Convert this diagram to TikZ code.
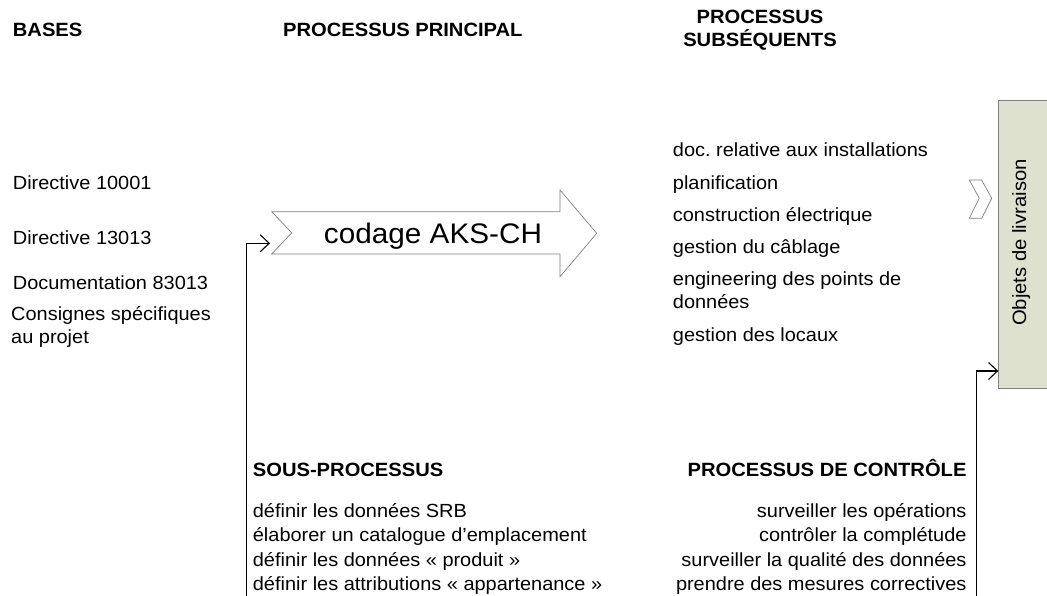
\documentclass[tikz,border=0pt]{standalone}
\usepackage{fontspec}
\setmainfont{Liberation Sans}[FakeStretch=1.05]
\usetikzlibrary{arrows.meta}
\definecolor{boxfill}{RGB}{221,225,205}
\definecolor{edgegray}{RGB}{128,128,128}
\frenchspacing
\begin{document}
\begin{tikzpicture}[x=1pt,y=-1pt,
  txt/.style={inner sep=0pt,anchor=base west,font=\fontsize{19}{22}\selectfont},
  txtr/.style={inner sep=0pt,anchor=base east,font=\fontsize{19}{22}\selectfont},
  headfont/.style={inner sep=0pt,font=\fontsize{19.2}{23.4}\selectfont\bfseries},
  head/.style={headfont,anchor=base west},
  conn/.style={line width=1.4pt,-{Straight Barb[length=9pt,width=17pt,line width=1.1pt]}},
  outline/.style={draw=edgegray,line width=0.7pt,fill=white}]
\useasboundingbox (0,0) rectangle (1047,596);

% column headings
\node[head] (hbases) at (12.7,36.7) {BASES};
\node[head] (hmain) at (283,36.7) {PROCESSUS PRINCIPAL};
\node[headfont,anchor=base] (hsub1) at (760,23.3) {PROCESSUS};
\node[headfont,anchor=base] (hsub2) at (760,46.7) {SUBSÉQUENTS};

% bases
\node[txt] (b1) at (12.7,189.3) {Directive 10001};
\node[txt] (b2) at (12.7,244) {Directive 13013};
\node[txt] (b3) at (12.7,290) {Documentation 83013};
\node[txt] (b4) at (11,320) {Consignes spécifiques};
\node[txt] (b5) at (11,343.3) {au projet};

% main process arrow
\coordinate (arrA) at (271.7,211.7);
\coordinate (arrB) at (560,211.7);
\coordinate (arrC) at (560,190);
\coordinate (arrD) at (596.7,233.3);
\coordinate (arrE) at (560,276.7);
\coordinate (arrF) at (560,254);
\coordinate (arrG) at (271.7,254);
\coordinate (arrH) at (291.7,232.8);
\draw[outline] (arrA) -- (arrB) -- (arrC) -- (arrD) -- (arrE) -- (arrF) -- (arrG) -- (arrH) -- cycle;
\node[inner sep=0pt,anchor=base,font=\fontsize{28.3}{30}\selectfont] (coding) at (433,243.3) {codage AKS-CH};

% subsequent processes
\node[txt] (s1) at (672.7,156.7) {doc. relative aux installations};
\node[txt] (s2) at (672.7,189.3) {planification};
\node[txt] (s3) at (672.7,221.7) {construction électrique};
\node[txt] (s4) at (672.7,253.3) {gestion du câblage};
\node[txt] (s5) at (672.7,285.7) {engineering des points de};
\node[txt] (s6) at (672.7,308.3) {données};
\node[txt] (s7) at (672.7,341.7) {gestion des locaux};

% small chevron before the deliverables
\draw[outline] (969.3,180) -- (981.7,180) -- (991.7,198.3) -- (981.7,218.3)
  -- (969.3,218.3) -- (979.3,198.3) -- cycle;

% deliverables box
\node[draw=edgegray,line width=0.9pt,fill=boxfill,anchor=north west,
      minimum width=60pt,minimum height=288.3pt,inner sep=0pt] (obj) at (998.3,100) {};
\node[inner sep=0pt,rotate=90,font=\fontsize{19.3}{22}\selectfont] (objlbl) at (1021,242.5) {Objets de livraison};

% sub-processes
\node[head] (hsp) at (252.7,476.7) {SOUS-PROCESSUS};
\node[txt] (p1) at (252.7,517.5) {définir les données SRB};
\node[txt] (p2) at (252.7,541.8) {élaborer un catalogue d’emplacement};
\node[txt] (p3) at (252.7,566) {définir les données « produit »};
\node[txt] (p4) at (252.7,590.2) {définir les attributions « appartenance »};

% control processes
\node[headfont,anchor=base east] (hctl) at (966.7,476) {PROCESSUS DE CONTRÔLE};
\node[txtr] (c1) at (966.7,517.5) {surveiller les opérations};
\node[txtr] (c2) at (966.7,541.8) {contrôler la complétude};
\node[txtr] (c3) at (966.7,566) {surveiller la qualité des données};
\node[txtr] (c4) at (966.7,590.2) {prendre des mesures correctives};

% feedback connectors
\coordinate (subroot) at (246.7,600);
\coordinate (codin) at (270,243.3);
\draw[conn] (subroot) |- (codin);
\coordinate (ctlroot) at (976.7,600);
\coordinate (objin) at (998.3,371);
\draw[conn] (ctlroot) |- (objin);
\end{tikzpicture}
\end{document}
